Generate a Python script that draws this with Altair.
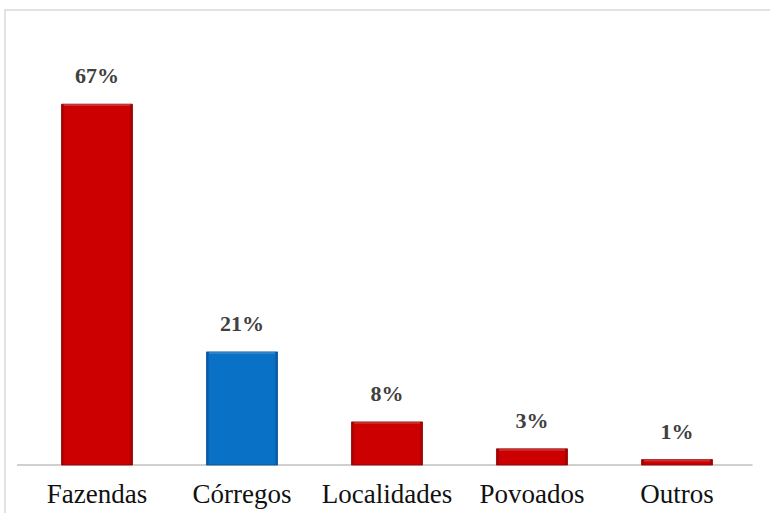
import altair as alt
import pandas as pd

categories = ["Fazendas", "Córregos", "Localidades", "Povoados", "Outros"]
values = [67, 21, 8, 3, 1]
labels = ["67%", "21%", "8%", "3%", "1%"]
groups = ["red", "blue", "red", "red", "red"]

df = pd.DataFrame({"cat": categories, "val": values, "lab": labels, "grp": groups})

W, H = 725, 377
FONT = "Liberation Serif"

x = alt.X("cat:N", sort=categories,
          scale=alt.Scale(paddingInner=0.51, paddingOuter=0.255),
          axis=alt.Axis(title=None, labelAngle=0, labelFont=FONT,
                        labelFontSize=27, labelColor="#111111", labelPadding=16,
                        domain=False, ticks=False, grid=False, zindex=1))
y = alt.Y("val:Q", scale=alt.Scale(domain=[0, 70], nice=False, zero=True),
          axis=None)

frame_df = pd.DataFrame({"k": [0]})
frame = alt.Chart(frame_df).mark_rect(fillOpacity=0, stroke="#d9d9d9", strokeWidth=1.5).encode(
    x=alt.value(-19.5), x2=alt.value(W + 60), y=alt.value(-78), y2=alt.value(H + 80)
)

base = alt.Chart(frame_df).mark_rule(color="#d0d0d0", strokeWidth=2).encode(
    x=alt.value(-7.5), x2=alt.value(W + 3), y=alt.value(H)
)


def grad(edge, main):
    return alt.Gradient(gradient="linear", x1=0, x2=1, y1=0, y2=0,
                        stops=[alt.GradientStop(offset=0, color=edge),
                               alt.GradientStop(offset=0.05, color=main),
                               alt.GradientStop(offset=0.95, color=main),
                               alt.GradientStop(offset=1, color=edge)])


red_bars = alt.Chart(df).transform_filter(alt.datum.grp == "red").mark_bar(
    fill=grad("#9a0000", "#CC0000"), stroke="#8a0000", strokeWidth=0.8
).encode(x=x, y=y)

blue_bars = alt.Chart(df).transform_filter(alt.datum.grp == "blue").mark_bar(
    fill=grad("#0553a0", "#0A72C6"), stroke="#064f8f", strokeWidth=0.8
).encode(x=x, y=y)

highlight = alt.Chart(df).transform_calculate(top2="datum.val - 0.35").mark_bar(
    color="white", opacity=0.18, size=66
).encode(x=alt.X("cat:N", sort=categories), y=y, y2="top2:Q")

text = alt.Chart(df).mark_text(font=FONT, fontWeight="bold", fontSize=22,
                               color="#404040", baseline="bottom", dy=-16).encode(
    x=alt.X("cat:N", sort=categories), y=y, text="lab:N"
)

chart = alt.layer(frame, base, red_bars, blue_bars, highlight, text).properties(
    width=W, height=H,
    background="white",
    autosize=alt.AutoSizeParams(type="none"),
    padding={"left": 24.5, "top": 88, "right": 20.5, "bottom": 48},
).configure_view(stroke="transparent")

chart.save("out.html", embed_options={"renderer": "svg", "actions": False})
